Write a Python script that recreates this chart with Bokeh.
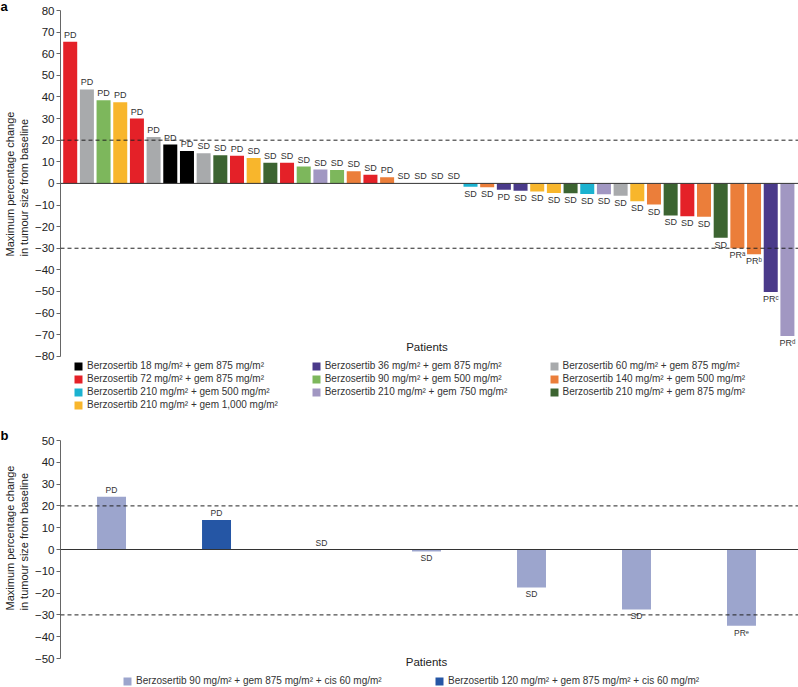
import pandas as pd
from bokeh.plotting import figure
from bokeh.models import (ColumnDataSource, Span, Label, Legend, LegendItem, Title,
                          FixedTicker, CustomJSTickFormatter, Range1d)
from bokeh.layouts import column
from bokeh.core.properties import value
from bokeh.embed import file_html
from bokeh.resources import INLINE

FONT = "Liberation Sans"

# ---------------- Panel a data ----------------
patients_a = list(range(1, 45))
change_a = [65.5, 43.5, 38.5, 37.5, 30.0, 21.5, 18.0, 15.0, 14.0, 13.0,
            12.8, 11.8, 9.6, 9.6, 7.8, 6.4, 6.2, 5.6, 4.0, 2.8,
            0, 0, 0, 0, -1.5, -1.8, -2.9, -3.4, -3.7, -4.4,
            -4.6, -4.9, -5.0, -5.7, -8.2, -9.8, -14.8, -15.2, -15.4, -25.2,
            -30.0, -32.8, -50.2, -70.6]
group_a = ["72/875", "60/875", "90/500", "210/1000", "72/875", "60/875", "18/875", "18/875", "60/875", "210/875",
           "72/875", "210/1000", "210/875", "72/875", "90/500", "210/750", "90/500", "140/500", "72/875", "140/500",
           "60/875", "210/875", "140/500", "210/750", "210/500", "140/500", "36/875", "36/875", "210/1000", "210/1000",
           "210/875", "210/500", "210/750", "60/875", "210/1000", "140/500", "210/875", "72/875", "140/500", "210/875",
           "140/500", "140/500", "36/875", "210/750"]
response_a = ["PD", "PD", "PD", "PD", "PD", "PD", "PD", "PD", "SD", "SD",
              "PD", "SD", "SD", "SD", "SD", "SD", "SD", "SD", "SD", "PD",
              "SD", "SD", "SD", "SD", "SD", "SD", "PD", "SD", "SD", "SD",
              "SD", "SD", "SD", "SD", "SD", "SD", "SD", "SD", "SD", "SD",
              "PR\u1d43", "PR\u1d47", "PR\u1d9c", "PR\u1d48"]

keys_a = ["18/875", "72/875", "210/500", "210/1000",
          "36/875", "90/500", "210/750",
          "60/875", "140/500", "210/875"]
labels_a = ["Berzosertib 18 mg/m\u00b2 + gem 875 mg/m\u00b2",
            "Berzosertib 72 mg/m\u00b2 + gem 875 mg/m\u00b2",
            "Berzosertib 210 mg/m\u00b2 + gem 500 mg/m\u00b2",
            "Berzosertib 210 mg/m\u00b2 + gem 1,000 mg/m\u00b2",
            "Berzosertib 36 mg/m\u00b2 + gem 875 mg/m\u00b2",
            "Berzosertib 90 mg/m\u00b2 + gem 500 mg/m\u00b2",
            "Berzosertib 210 mg/m\u00b2 + gem 750 mg/m\u00b2",
            "Berzosertib 60 mg/m\u00b2 + gem 875 mg/m\u00b2",
            "Berzosertib 140 mg/m\u00b2 + gem 500 mg/m\u00b2",
            "Berzosertib 210 mg/m\u00b2 + gem 875 mg/m\u00b2"]
colors_a = ["#000000", "#E42128", "#1BB2D0", "#F8B62C",
            "#4A3A8A", "#7DB75C", "#A197C2",
            "#A8AAAC", "#EB7E3A", "#3C6431"]

# ---------------- Panel b data ----------------
patients_b = list(range(1, 8))
change_b = [24.2, 13.5, 0, -0.9, -17.4, -27.5, -35.0]
group_b = ["90", "120", "90", "90", "90", "90", "90"]
response_b = ["PD", "PD", "SD", "SD", "SD", "SD", "PR\u1d49"]
keys_b = ["90", "120"]
labels_b = ["Berzosertib 90 mg/m\u00b2 + gem 875 mg/m\u00b2 + cis 60 mg/m\u00b2",
            "Berzosertib 120 mg/m\u00b2 + gem 875 mg/m\u00b2 + cis 60 mg/m\u00b2"]
colors_b = ["#9CA5CD", "#2556A5"]

Y_TITLE = "Maximum percentage change\nin tumour size from baseline"
minus_fmt = CustomJSTickFormatter(code="return tick < 0 ? '\\u2212' + Math.abs(tick) : tick.toString();")


def style_axis(p, lo, hi):
    ax = p.yaxis[0]
    ax.bounds = (lo, hi)
    ax.ticker = FixedTicker(ticks=list(range(lo, hi + 1, 10)))
    ax.formatter = minus_fmt
    ax.axis_line_color = "#666666"
    ax.major_tick_line_color = "#666666"
    ax.major_tick_out = 4
    ax.major_tick_in = 0
    ax.minor_tick_line_color = None
    ax.major_label_standoff = 2
    ax.major_label_text_font = FONT
    ax.major_label_text_font_size = "11.5px"
    ax.major_label_text_color = "#222222"


def y_title(p, offset):
    t = Title(text=Y_TITLE, align="left", offset=offset, vertical_align="bottom", standoff=3,
              text_font=FONT, text_font_size="11px", text_font_style="normal",
              text_color="#222222", text_line_height=1.15)
    p.add_layout(t, "left")


def style_title(p, letter, standoff):
    p.title.text = letter
    p.title.align = "left"
    p.title.vertical_align = "bottom"
    p.title.offset = -60
    p.title.standoff = standoff
    p.title.text_font = FONT
    p.title.text_font_size = "13px"
    p.title.text_font_style = "bold"
    p.title.text_color = "#000000"


def ref_lines(p):
    p.add_layout(Span(location=0, dimension="width", line_color="#333333", line_width=1))
    p.add_layout(Span(location=20, dimension="width", line_color="#222222", line_width=1, line_dash="4 3"))
    p.add_layout(Span(location=-30, dimension="width", line_color="#222222", line_width=1, line_dash="4 3"))


def bar_labels(p, df, size):
    pos = ColumnDataSource(df[df.top >= 0])
    neg = ColumnDataSource(df[df.top < 0])
    common = dict(text="resp", text_align="center", text_font=value(FONT),
                  text_font_size=value(size), text_color="#333333")
    p.text(x="x", y="top", source=pos, text_baseline="bottom", y_offset=-2, **common)
    p.text(x="x", y="top", source=neg, text_baseline="top", y_offset=2, **common)


def make_legend(items, x, y):
    return Legend(items=items, location=(x, y), orientation="vertical",
                  glyph_width=10, glyph_height=10, label_height=13, label_width=10,
                  spacing=0, padding=0, margin=0, label_standoff=4,
                  label_text_font=FONT, label_text_font_size="10px",
                  label_text_color="#333333", border_line_color=None,
                  background_fill_alpha=0)


# ---------------- Figure a ----------------
pa = figure(width=798, height=428, output_backend="svg", toolbar_location=None,
            x_axis_location=None, x_range=Range1d(0.418, 44.665), y_range=Range1d(-113.4, 80),
            min_border_left=60, min_border_right=0, min_border_top=10, min_border_bottom=0)
pa.outline_line_color = None
pa.grid.visible = False
style_axis(pa, -80, 80)
y_title(pa, 172)
style_title(pa, "a", -7)
ref_lines(pa)

df_a = pd.DataFrame(dict(x=patients_a, top=change_a, grp=group_a, resp=response_a))
rend_a = {}
for key, color in zip(keys_a, colors_a):
    src = ColumnDataSource(df_a[df_a.grp == key])
    rend_a[key] = pa.vbar(x="x", top="top", bottom=0, width=0.84, source=src,
                          fill_color=color, line_color=None)
bar_labels(pa, df_a, "9px")

items_a = [LegendItem(label=l, renderers=[rend_a[k]]) for k, l in zip(keys_a, labels_a)]
pa.add_layout(make_legend(items_a[0:4], 13, 17))
pa.add_layout(make_legend(items_a[4:7], 250.7, 30))
pa.add_layout(make_legend(items_a[7:10], 488.5, 30))

pa.add_layout(Label(x=22.39, y=-75.8, text="Patients", text_align="center", text_baseline="middle",
                    text_font=FONT, text_font_size="11.5px", text_color="#222222"))

# ---------------- Figure b ----------------
pb = figure(width=798, height=259, output_backend="svg", toolbar_location=None,
            x_axis_location=None, x_range=Range1d(0.514, 7.543), y_range=Range1d(-63.3, 50),
            min_border_left=60, min_border_right=0, min_border_top=12, min_border_bottom=0)
pb.outline_line_color = None
pb.grid.visible = False
style_axis(pb, -50, 50)
y_title(pb, 77)
style_title(pb, "b", -5)
ref_lines(pb)

df_b = pd.DataFrame(dict(x=patients_b, top=change_b, grp=group_b, resp=response_b))
rend_b = {}
for key, color in zip(keys_b, colors_b):
    src = ColumnDataSource(df_b[df_b.grp == key])
    rend_b[key] = pb.vbar(x="x", top="top", bottom=0, width=0.276, source=src,
                          fill_color=color, line_color=None)
bar_labels(pb, df_b, "8.5px")

pb.add_layout(make_legend([LegendItem(label=labels_b[0], renderers=[rend_b["90"]])], 62, 0))
pb.add_layout(make_legend([LegendItem(label=labels_b[1], renderers=[rend_b["120"]])], 374, 0))

pb.add_layout(Label(x=4.0, y=-51.4, text="Patients", text_align="center", text_baseline="middle",
                    text_font=FONT, text_font_size="11.5px", text_color="#222222"))

layout = column(pa, pb, spacing=0)
open("out.html", "w").write(file_html(layout, INLINE))
